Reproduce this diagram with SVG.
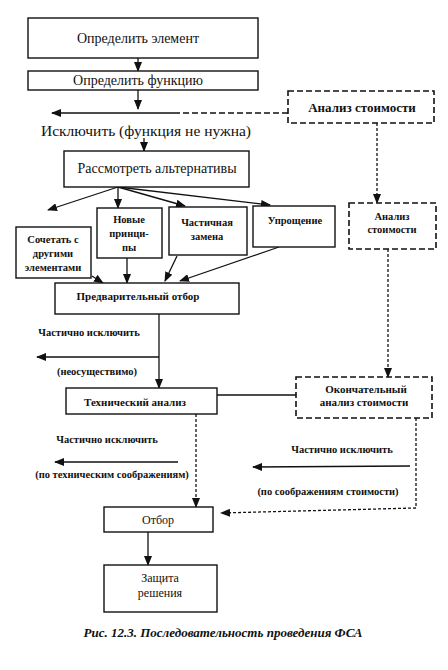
<svg xmlns="http://www.w3.org/2000/svg" width="448" height="670" viewBox="0 0 448 670">
<defs>
<marker id="ah" markerUnits="userSpaceOnUse" markerWidth="10" markerHeight="8" refX="9" refY="4" orient="auto">
<path d="M0,0 L10,4 L0,8 Z" fill="#111"/>
</marker>
</defs>
<style>
.box{fill:#fff;stroke:#111;stroke-width:1.4}
.dbox{fill:#fff;stroke:#111;stroke-width:1.6;stroke-dasharray:6,3}
.ln{fill:none;stroke:#111;stroke-width:1.3}
.dl{fill:none;stroke:#111;stroke-width:1.3;stroke-dasharray:3,2}
.dl2{fill:none;stroke:#111;stroke-width:1.4;stroke-dasharray:6,3}
.t{font-family:"Liberation Serif",serif;fill:#111;text-anchor:middle}
.t14{font-size:14px}
.t12{font-size:11px;font-weight:bold}
.t11{font-size:10.5px;font-weight:bold}
</style>
<rect width="448" height="670" fill="#fff"/>

<g id="connectors">
<line class="ln" x1="138" y1="58" x2="138" y2="71" marker-end="url(#ah)"/>
<line class="ln" x1="138" y1="90" x2="138" y2="109" marker-end="url(#ah)"/>
<line class="ln" x1="177" y1="113" x2="52" y2="113" marker-end="url(#ah)"/>
<line class="dl2" x1="288" y1="113" x2="177" y2="113"/>
<line class="dl" x1="377" y1="123" x2="377" y2="203" marker-end="url(#ah)"/>
<line class="ln" x1="144" y1="138" x2="144" y2="151" marker-end="url(#ah)"/>
<line class="ln" x1="118" y1="187" x2="48" y2="210" marker-end="url(#ah)"/>
<line class="ln" x1="118" y1="187" x2="118" y2="208" marker-end="url(#ah)"/>
<line class="ln" x1="118" y1="187" x2="185" y2="206" marker-end="url(#ah)"/>
<line class="ln" x1="118" y1="187" x2="270" y2="205" marker-end="url(#ah)"/>
<line class="ln" x1="92" y1="276" x2="103" y2="283" marker-end="url(#ah)"/>
<line class="ln" x1="127" y1="258" x2="127" y2="283" marker-end="url(#ah)"/>
<line class="ln" x1="177" y1="256" x2="165" y2="281" marker-end="url(#ah)"/>
<line class="ln" x1="279" y1="247" x2="180" y2="281" marker-end="url(#ah)"/>
<line class="ln" x1="159" y1="314" x2="159" y2="388" marker-end="url(#ah)"/>
<line class="ln" x1="159" y1="357" x2="37" y2="357" marker-end="url(#ah)"/>
<line class="dl" x1="388" y1="249" x2="388" y2="377" marker-end="url(#ah)"/>
<line class="ln" x1="217" y1="395" x2="296" y2="395"/>
<line class="dl" x1="196" y1="414" x2="196" y2="507" marker-end="url(#ah)"/>
<line class="ln" x1="178" y1="462" x2="55" y2="462" marker-end="url(#ah)"/>
<line class="dl" x1="416" y1="418" x2="416" y2="508"/>
<line class="dl" x1="416" y1="508" x2="221" y2="513" marker-end="url(#ah)"/>
<line class="ln" x1="410" y1="466" x2="253" y2="467" marker-end="url(#ah)"/>
<line class="ln" x1="148" y1="532" x2="148" y2="565" marker-end="url(#ah)"/>
</g>

<g id="n-element">
<rect class="box" x="28" y="18" width="230" height="40"/>
<text class="t t14" x="138" y="43">Определить элемент</text>
</g>
<g id="n-function">
<rect class="box" x="28" y="71" width="230" height="19"/>
<text class="t t14" x="138" y="85">Определить функцию</text>
</g>
<g id="n-cost1">
<rect class="dbox" x="288" y="91" width="146" height="32"/>
<text class="t" x="362" y="112" font-size="13" font-weight="bold">Анализ стоимости</text>
</g>
<g id="n-exclude">
<text class="t" x="146" y="136" font-size="15.5">Исключить (функция не нужна)</text>
</g>
<g id="n-alternatives">
<rect class="box" x="64" y="151" width="185" height="36"/>
<text class="t t14" x="157" y="173">Рассмотреть альтернативы</text>
</g>
<g id="n-combine">
<rect class="box" x="16" y="227" width="75" height="51"/>
<text class="t t11" x="53" y="243">Сочетать с</text>
<text class="t t11" x="53" y="257">другими</text>
<text class="t t11" x="53" y="271">элементами</text>
</g>
<g id="n-new">
<rect class="box" x="97" y="208" width="65" height="50"/>
<text class="t t11" x="129" y="223">Новые</text>
<text class="t t11" x="129" y="237">принци-</text>
<text class="t t11" x="129" y="251">пы</text>
</g>
<g id="n-partial">
<rect class="box" x="169" y="207" width="78" height="48"/>
<text class="t t11" x="207" y="226">Частичная</text>
<text class="t t11" x="207" y="240">замена</text>
</g>
<g id="n-simplify">
<rect class="box" x="253" y="206" width="82" height="41"/>
<text class="t t11" x="295" y="224">Упрощение</text>
</g>
<g id="n-cost2">
<rect class="dbox" x="349" y="203" width="87" height="46"/>
<text class="t t11" x="392" y="220">Анализ</text>
<text class="t t11" x="392" y="233">стоимости</text>
</g>
<g id="n-preselect">
<rect class="box" x="55" y="283" width="184" height="31"/>
<text class="t t12" x="138" y="300">Предварительный отбор</text>
</g>
<g id="n-excl2">
<text class="t t11" x="89" y="336">Частично исключить</text>
<text class="t t11" x="97" y="375">(неосуществимо)</text>
</g>
<g id="n-tech">
<rect class="box" x="66" y="388" width="151" height="26"/>
<text class="t t12" x="135" y="406" font-size="12.5">Технический анализ</text>
</g>
<g id="n-final">
<rect class="dbox" x="296" y="377" width="136" height="41"/>
<text class="t t12" x="366" y="393">Окончательный</text>
<text class="t t12" x="364" y="406">анализ стоимости</text>
</g>
<g id="n-excl3">
<text class="t t11" x="107" y="443">Частично исключить</text>
<text class="t t11" x="112" y="478">(по техническим соображениям)</text>
</g>
<g id="n-excl4">
<text class="t t11" x="342" y="453">Частично исключить</text>
<text class="t t11" x="328" y="495">(по соображениям стоимости)</text>
</g>
<g id="n-select">
<rect class="box" x="104" y="507" width="109" height="25"/>
<text class="t" x="158" y="524" font-size="12">Отбор</text>
</g>
<g id="n-defense">
<rect class="box" x="104" y="565" width="113" height="47"/>
<text class="t" x="160" y="582" font-size="12">Защита</text>
<text class="t" x="160" y="597" font-size="12">решения</text>
</g>
<g id="caption">
<text class="t" x="223" y="637" font-size="13" font-style="italic" font-weight="bold">Рис. 12.3. Последовательность проведения ФСА</text>
</g>
</svg>
